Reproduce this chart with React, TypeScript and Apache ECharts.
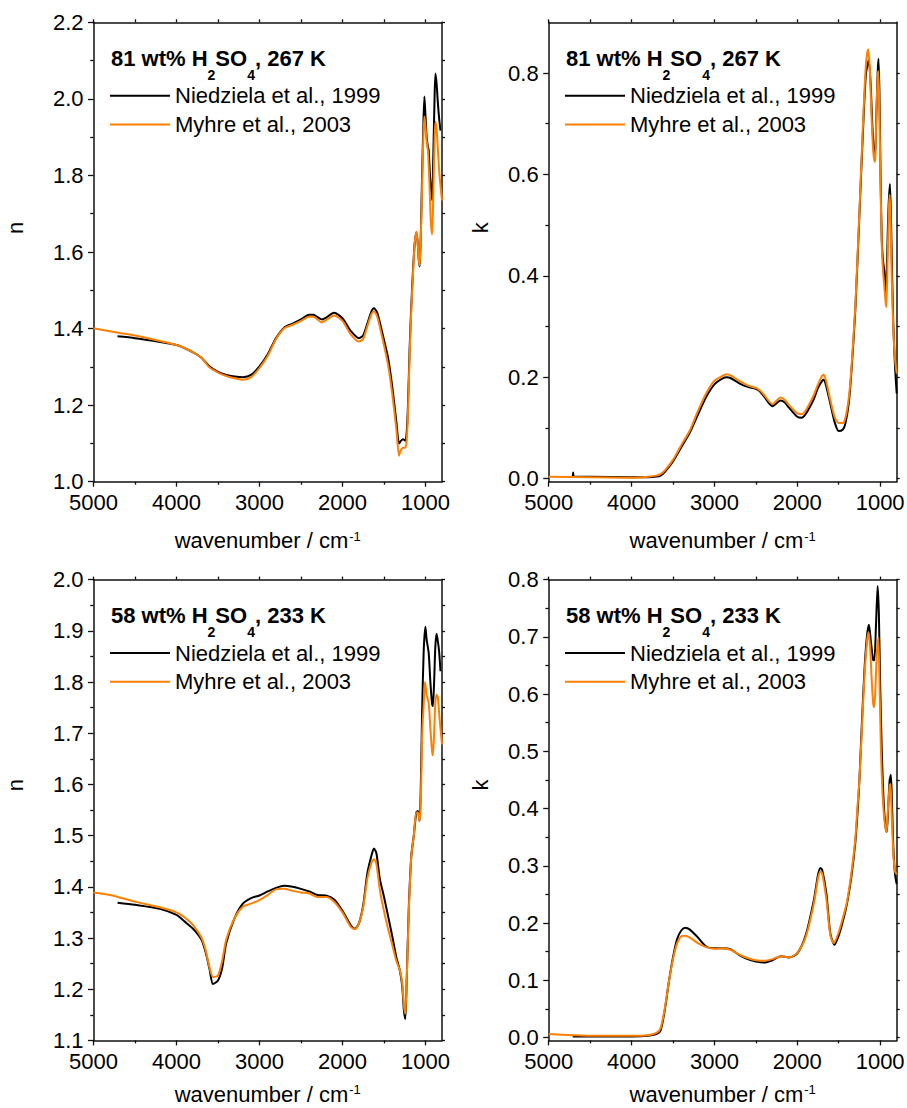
import React, { useEffect, useRef } from "react";
import * as echarts from "echarts";

const FONT = '"Liberation Sans", Arial, Helvetica, sans-serif';
const BLACK = "#000000";
const ORANGE_LINE = "#FF8000";

const SERIES_NAMES = ["Niedziela et al., 1999", "Myhre et al., 2003"];

const X_MIN = 800;
const X_MAX = 5000;
const X_MAJOR = [5000, 4000, 3000, 2000, 1000];
const X_MINOR = [4500, 3500, 2500, 1500];

const N81_MAJOR = [1.0, 1.2, 1.4, 1.6, 1.8, 2.0, 2.2];
const N81_MINOR = [1.1, 1.3, 1.5, 1.7, 1.9, 2.1];
const K81_MAJOR = [0, 0.2, 0.4, 0.6, 0.8];
const K81_MINOR = [0.1, 0.3, 0.5, 0.7];
const N58_MAJOR = [1.1, 1.2, 1.3, 1.4, 1.5, 1.6, 1.7, 1.8, 1.9, 2.0];
const N58_MINOR = [1.15, 1.25, 1.35, 1.45, 1.55, 1.65, 1.75, 1.85, 1.95];
const K58_MAJOR = [0, 0.1, 0.2, 0.3, 0.4, 0.5, 0.6, 0.7, 0.8];
const K58_MINOR = [0.05, 0.15, 0.25, 0.35, 0.45, 0.55, 0.65, 0.75];

// 81 wt% H2SO4, 267 K — refractive index n
const N81_NIEDZIELA: [number, number][] = [
  [4710, 1.38], [4500, 1.375], [4000, 1.357], [3800, 1.338], [3700, 1.324], [3600, 1.301], [3500, 1.287],
  [3400, 1.279], [3300, 1.275], [3200, 1.273], [3100, 1.279], [3000, 1.301], [2900, 1.333], [2800, 1.375],
  [2700, 1.403], [2600, 1.413], [2500, 1.424], [2400, 1.436], [2350, 1.436], [2250, 1.424], [2200, 1.428],
  [2100, 1.441], [2000, 1.427], [1900, 1.394], [1800, 1.375], [1750, 1.382], [1700, 1.413], [1650, 1.445],
  [1620, 1.453], [1580, 1.441], [1500, 1.371], [1450, 1.324], [1400, 1.249], [1350, 1.156], [1318, 1.1],
  [1300, 1.105], [1270, 1.111], [1242, 1.107], [1225, 1.13], [1210, 1.2], [1190, 1.35], [1170, 1.46],
  [1150, 1.55], [1130, 1.62], [1109, 1.651], [1095, 1.63], [1080, 1.58], [1069, 1.562], [1055, 1.65],
  [1040, 1.8], [1025, 1.93], [1012, 2.006], [1000, 1.96], [985, 1.9], [970, 1.875], [960, 1.866],
  [945, 1.8], [930, 1.76], [919, 1.735], [905, 1.85], [890, 2.0], [879, 2.066], [865, 2.04], [850, 1.99],
  [835, 1.95], [818, 1.917],
];
const N81_MYHRE: [number, number][] = [
  [5000, 1.401], [4700, 1.389], [4500, 1.382], [4000, 1.357], [3800, 1.338], [3700, 1.324], [3600, 1.298],
  [3500, 1.285], [3400, 1.276], [3300, 1.27], [3200, 1.266], [3100, 1.273], [3000, 1.297], [2900, 1.329],
  [2800, 1.373], [2700, 1.401], [2600, 1.41], [2500, 1.42], [2400, 1.431], [2350, 1.431], [2250, 1.416],
  [2200, 1.422], [2100, 1.434], [2000, 1.42], [1900, 1.385], [1800, 1.366], [1750, 1.373], [1700, 1.406],
  [1650, 1.438], [1620, 1.445], [1580, 1.431], [1500, 1.357], [1450, 1.305], [1400, 1.23], [1350, 1.137],
  [1318, 1.068], [1300, 1.081], [1270, 1.089], [1242, 1.089], [1225, 1.11], [1210, 1.18], [1190, 1.33],
  [1170, 1.45], [1150, 1.54], [1130, 1.62], [1109, 1.653], [1095, 1.63], [1080, 1.58], [1069, 1.565],
  [1055, 1.64], [1040, 1.77], [1025, 1.9], [1012, 1.954], [1000, 1.93], [985, 1.89], [968, 1.86],
  [950, 1.77], [935, 1.68], [919, 1.646], [905, 1.75], [890, 1.89], [879, 1.94], [865, 1.92], [850, 1.87],
  [830, 1.8], [800, 1.735],
];

// 81 wt% H2SO4, 267 K — absorption index k
const K81_NIEDZIELA: [number, number][] = [
  [4710, 0.004], [4705, 0.012], [4695, 0.004], [4500, 0.004], [4000, 0.003], [3800, 0.003], [3700, 0.004],
  [3650, 0.006], [3600, 0.013], [3500, 0.034], [3400, 0.062], [3300, 0.09], [3200, 0.126], [3100, 0.161],
  [3000, 0.186], [2900, 0.198], [2850, 0.2], [2800, 0.198], [2700, 0.188], [2600, 0.181], [2500, 0.177],
  [2450, 0.172], [2400, 0.162], [2300, 0.143], [2200, 0.154], [2150, 0.15], [2100, 0.14], [2000, 0.122],
  [1950, 0.12], [1900, 0.127], [1800, 0.157], [1750, 0.179], [1700, 0.193], [1680, 0.195], [1650, 0.182],
  [1600, 0.147], [1550, 0.112], [1500, 0.094], [1450, 0.097], [1420, 0.108], [1380, 0.147], [1350, 0.203],
  [1300, 0.331], [1250, 0.521], [1200, 0.712], [1170, 0.8], [1138, 0.825], [1115, 0.78], [1095, 0.7],
  [1075, 0.645], [1061, 0.635], [1045, 0.72], [1030, 0.8], [1020, 0.828], [1008, 0.76], [995, 0.6],
  [980, 0.47], [965, 0.43], [950, 0.41], [940, 0.38], [931, 0.36], [915, 0.44], [900, 0.53], [882, 0.581],
  [870, 0.52], [855, 0.4], [840, 0.3], [820, 0.22], [800, 0.168],
];
const K81_MYHRE: [number, number][] = [
  [5000, 0.004], [4500, 0.003], [4000, 0.002], [3800, 0.004], [3700, 0.006], [3650, 0.009], [3600, 0.016],
  [3500, 0.037], [3400, 0.066], [3300, 0.094], [3200, 0.133], [3100, 0.168], [3000, 0.193], [2900, 0.203],
  [2850, 0.206], [2800, 0.203], [2700, 0.193], [2600, 0.184], [2500, 0.179], [2450, 0.174], [2400, 0.165],
  [2300, 0.147], [2200, 0.16], [2150, 0.155], [2100, 0.145], [2000, 0.129], [1950, 0.127], [1900, 0.134],
  [1800, 0.165], [1750, 0.186], [1700, 0.203], [1680, 0.205], [1650, 0.191], [1600, 0.154], [1550, 0.122],
  [1500, 0.11], [1450, 0.11], [1420, 0.119], [1380, 0.157], [1350, 0.21], [1300, 0.338], [1250, 0.528],
  [1200, 0.726], [1170, 0.82], [1145, 0.847], [1125, 0.81], [1105, 0.72], [1085, 0.65], [1068, 0.625],
  [1058, 0.63], [1045, 0.72], [1030, 0.79], [1022, 0.804], [1010, 0.74], [995, 0.58], [980, 0.46],
  [965, 0.41], [950, 0.38], [935, 0.35], [925, 0.338], [910, 0.43], [895, 0.53], [884, 0.56], [872, 0.5],
  [860, 0.4], [840, 0.29], [820, 0.235], [800, 0.207],
];

// 58 wt% H2SO4, 233 K — refractive index n
const N58_NIEDZIELA: [number, number][] = [
  [4710, 1.369], [4500, 1.365], [4200, 1.357], [4000, 1.345], [3900, 1.332], [3800, 1.318], [3700, 1.297],
  [3650, 1.273], [3600, 1.238], [3560, 1.21], [3500, 1.217], [3450, 1.241], [3400, 1.29], [3300, 1.339],
  [3200, 1.367], [3100, 1.378], [3000, 1.383], [2900, 1.391], [2800, 1.398], [2700, 1.402], [2600, 1.4],
  [2500, 1.396], [2400, 1.391], [2300, 1.384], [2200, 1.383], [2100, 1.375], [2000, 1.353], [1900, 1.325],
  [1850, 1.318], [1800, 1.329], [1750, 1.364], [1700, 1.426], [1650, 1.461], [1620, 1.475], [1590, 1.465],
  [1550, 1.416], [1500, 1.381], [1450, 1.343], [1400, 1.304], [1350, 1.262], [1310, 1.238], [1280, 1.207],
  [1260, 1.16], [1242, 1.142], [1225, 1.22], [1200, 1.36], [1170, 1.46], [1140, 1.5], [1110, 1.545],
  [1090, 1.548], [1070, 1.528], [1055, 1.6], [1040, 1.74], [1020, 1.863], [1000, 1.908], [985, 1.883],
  [960, 1.856], [940, 1.8], [920, 1.758], [910, 1.753], [895, 1.8], [880, 1.87], [865, 1.894], [850, 1.88],
  [835, 1.86], [818, 1.821],
];
const N58_MYHRE: [number, number][] = [
  [5000, 1.389], [4800, 1.384], [4500, 1.371], [4200, 1.36], [4000, 1.35], [3900, 1.34], [3800, 1.325],
  [3700, 1.301], [3650, 1.277], [3600, 1.241], [3560, 1.224], [3500, 1.227], [3450, 1.255], [3400, 1.297],
  [3300, 1.339], [3200, 1.361], [3100, 1.367], [3000, 1.374], [2900, 1.384], [2800, 1.395], [2700, 1.396],
  [2600, 1.392], [2500, 1.389], [2400, 1.387], [2300, 1.38], [2200, 1.38], [2100, 1.371], [2000, 1.35],
  [1900, 1.322], [1850, 1.317], [1800, 1.329], [1750, 1.36], [1700, 1.416], [1650, 1.447], [1620, 1.454],
  [1590, 1.444], [1550, 1.395], [1500, 1.353], [1450, 1.318], [1400, 1.287], [1350, 1.255], [1310, 1.238],
  [1280, 1.213], [1260, 1.17], [1242, 1.152], [1225, 1.22], [1200, 1.353], [1170, 1.46], [1140, 1.5],
  [1110, 1.545], [1090, 1.545], [1070, 1.528], [1055, 1.57], [1040, 1.695], [1020, 1.758], [1005, 1.8],
  [985, 1.775], [960, 1.758], [940, 1.709], [920, 1.665], [910, 1.657], [895, 1.7], [880, 1.76], [865, 1.775],
  [850, 1.77], [830, 1.73], [800, 1.678],
];

// 58 wt% H2SO4, 233 K — absorption index k
const K58_NIEDZIELA: [number, number][] = [
  [4710, 0.002], [4500, 0.002], [4000, 0.002], [3800, 0.003], [3700, 0.006], [3650, 0.012], [3600, 0.047],
  [3550, 0.097], [3500, 0.14], [3450, 0.172], [3400, 0.187], [3350, 0.192], [3300, 0.189], [3200, 0.175],
  [3100, 0.159], [3000, 0.156], [2900, 0.156], [2800, 0.154], [2700, 0.144], [2600, 0.137], [2500, 0.133],
  [2400, 0.131], [2300, 0.135], [2200, 0.142], [2100, 0.14], [2000, 0.147], [1900, 0.178], [1800, 0.24],
  [1750, 0.284], [1720, 0.296], [1700, 0.293], [1650, 0.253], [1600, 0.181], [1550, 0.162], [1500, 0.178],
  [1450, 0.203], [1400, 0.234], [1350, 0.278], [1300, 0.34], [1270, 0.4], [1250, 0.45], [1220, 0.55],
  [1190, 0.64], [1160, 0.7], [1135, 0.721], [1110, 0.69], [1085, 0.66], [1070, 0.659], [1050, 0.72],
  [1030, 0.789], [1015, 0.74], [1000, 0.62], [980, 0.5], [960, 0.42], [940, 0.375], [920, 0.359],
  [900, 0.41], [885, 0.45], [870, 0.459], [855, 0.4], [840, 0.33], [820, 0.285], [800, 0.268],
];
const K58_MYHRE: [number, number][] = [
  [5000, 0.006], [4700, 0.004], [4500, 0.003], [4000, 0.003], [3800, 0.004], [3700, 0.008], [3650, 0.016],
  [3600, 0.05], [3550, 0.097], [3500, 0.137], [3450, 0.165], [3400, 0.177], [3350, 0.178], [3300, 0.175],
  [3200, 0.165], [3100, 0.158], [3000, 0.155], [2900, 0.156], [2800, 0.153], [2700, 0.145], [2600, 0.139],
  [2500, 0.135], [2400, 0.134], [2300, 0.137], [2200, 0.142], [2100, 0.14], [2000, 0.148], [1900, 0.175],
  [1800, 0.234], [1750, 0.278], [1720, 0.29], [1700, 0.287], [1650, 0.243], [1600, 0.178], [1560, 0.165],
  [1500, 0.184], [1450, 0.209], [1400, 0.237], [1350, 0.284], [1300, 0.346], [1270, 0.41], [1250, 0.45],
  [1220, 0.54], [1190, 0.63], [1160, 0.69], [1140, 0.708], [1120, 0.68], [1100, 0.62], [1085, 0.585],
  [1073, 0.577], [1060, 0.6], [1040, 0.67], [1022, 0.698], [1005, 0.6], [990, 0.5], [975, 0.44], [960, 0.4],
  [940, 0.37], [923, 0.359], [905, 0.4], [885, 0.44], [875, 0.443], [860, 0.39], [840, 0.32], [820, 0.29],
  [800, 0.285],
];

const PANELS = [
  {
    box: [93.5, 22.3, 348.5, 459.4], yMin: 1.0, yMax: 2.2, major: N81_MAJOR, minor: N81_MINOR,
    yName: "n", conc: "81", temp: "267", data: [N81_NIEDZIELA, N81_MYHRE], titleGap: 48,
  },
  {
    box: [548.7, 22.3, 348, 459.4], yMin: -0.006, yMax: 0.9, major: K81_MAJOR, minor: K81_MINOR,
    yName: "k", conc: "81", temp: "267", data: [K81_NIEDZIELA, K81_MYHRE], titleGap: 48,
  },
  {
    box: [93.5, 579.6, 348.5, 460.8], yMin: 1.1, yMax: 2.0, major: N58_MAJOR, minor: N58_MINOR,
    yName: "n", conc: "58", temp: "233", data: [N58_NIEDZIELA, N58_MYHRE], titleGap: 43,
  },
  {
    box: [548.7, 579.6, 348, 460.8], yMin: -0.005, yMax: 0.8, major: K58_MAJOR, minor: K58_MINOR,
    yName: "k", conc: "58", temp: "233", data: [K58_NIEDZIELA, K58_MYHRE], titleGap: 43,
  },
];

function buildOption() {
  const grid: any[] = [];
  const xAxis: any[] = [];
  const yAxis: any[] = [];
  const series: any[] = [];
  const legend: any[] = [];
  const graphic: any[] = [];
  const axLine = { color: "#111", width: 1.5 };
  const tickStyle = { color: "#111", width: 1.3 };

  PANELS.forEach((p, g) => {
    const [left, top, width, height] = p.box;
    grid.push({ left, top, width, height, containLabel: false, outerBoundsMode: "none" });

    const xBase = {
      type: "value", gridIndex: g, min: X_MIN, max: X_MAX, inverse: true,
      splitLine: { show: false }, minorTick: { show: false },
    };
    xAxis.push({
      ...xBase, position: "bottom",
      axisLine: { show: true, onZero: false, lineStyle: axLine },
      axisTick: { show: true, inside: false, length: 5, customValues: X_MAJOR, lineStyle: tickStyle },
      axisLabel: {
        show: true, customValues: X_MAJOR, margin: 12, fontSize: 22, lineHeight: 18, fontFamily: FONT, color: "#000",
        formatter: (v: number) => String(v),
      },
    });
    xAxis.push({
      ...xBase, position: "bottom",
      axisLine: { show: false, onZero: false },
      axisTick: { show: true, inside: false, length: 3, customValues: X_MINOR, lineStyle: tickStyle },
      axisLabel: { show: false },
    });
    xAxis.push({
      ...xBase, position: "top",
      axisLine: { show: true, onZero: false, lineStyle: axLine },
      axisTick: { show: true, inside: false, length: 3, customValues: [...X_MAJOR, ...X_MINOR], lineStyle: tickStyle },
      axisLabel: { show: false },
    });

    const yBase = {
      type: "value", gridIndex: g, min: p.yMin, max: p.yMax,
      splitLine: { show: false }, minorTick: { show: false },
    };
    yAxis.push({
      ...yBase, position: "left",
      axisLine: { show: true, onZero: false, lineStyle: axLine },
      axisTick: { show: true, inside: false, length: 5.5, customValues: p.major, lineStyle: tickStyle },
      axisLabel: {
        show: true, customValues: p.major, margin: 10, fontSize: 22, lineHeight: 18, fontFamily: FONT, color: "#000",
        formatter: (v: number) => v.toFixed(1),
      },
    });
    yAxis.push({
      ...yBase, position: "left",
      axisLine: { show: false, onZero: false },
      axisTick: { show: true, inside: false, length: 3.3, customValues: p.minor, lineStyle: tickStyle },
      axisLabel: { show: false },
    });
    yAxis.push({
      ...yBase, position: "right",
      axisLine: { show: true, onZero: false, lineStyle: axLine },
      axisTick: { show: true, inside: false, length: 3, customValues: [...p.major, ...p.minor], lineStyle: tickStyle },
      axisLabel: { show: false },
    });

    p.data.forEach((d, s) => {
      const color = s === 0 ? BLACK : ORANGE_LINE;
      series.push({
        type: "line", name: SERIES_NAMES[s], xAxisIndex: 3 * g, yAxisIndex: 3 * g,
        data: d, showSymbol: false, symbol: "none", smooth: 0.25,
        lineStyle: { color, width: 2 }, itemStyle: { color }, z: 2 + s,
      });
    });

    const lx = g % 2 === 0 ? 110 : 565;
    legend.push({
      left: lx, top: top + 62.5, orient: "vertical", padding: 0, itemGap: 6.6,
      itemWidth: 60, itemHeight: 2, icon: "rect", selectedMode: false,
      textStyle: { fontSize: 22, fontFamily: FONT, color: "#000", lineHeight: 22 },
      data: SERIES_NAMES,
    });

    const bold = { fontSize: 22, fontWeight: "bold", fontFamily: FONT, fill: "#000", lineHeight: 24, verticalAlign: "top" };
    const sub = { fontSize: 14, fontWeight: "bold", fontFamily: FONT, fill: "#000", lineHeight: 14, verticalAlign: "top", padding: [20.5, 0, 0, 0] };
    graphic.push({
      type: "text", x: lx + 1, y: top + 24.8, z: 10,
      style: {
        text: `{b|${p.conc} wt% H}{s|2}{b|SO}{s|4}{b|, ${p.temp} K}`,
        rich: { b: bold, s: sub }, align: "left", verticalAlign: "top", fill: "#000",
      },
    });

    const cx = left + width / 2;
    graphic.push({
      type: "text", x: cx, y: top + height + p.titleGap, z: 10,
      style: {
        text: "{a|wavenumber / cm}{s|-1}",
        rich: {
          a: { fontSize: 22, fontFamily: FONT, fill: "#000", lineHeight: 26, verticalAlign: "top" },
          s: { fontSize: 13, fontFamily: FONT, fill: "#000", lineHeight: 13, verticalAlign: "top", padding: [0, 0, 0, 1] },
        },
        align: "center", verticalAlign: "top", fill: "#000",
      },
    });

    graphic.push({
      type: "text", x: g % 2 === 0 ? 15 : 480, y: top + 205.5, rotation: Math.PI / 2, z: 10,
      style: { text: p.yName, fontSize: 22, fontFamily: FONT, fill: "#000", align: "center", verticalAlign: "middle" },
    });
  });

  return { animation: false, backgroundColor: "#ffffff", grid, xAxis, yAxis, series, legend, graphic };
}

export default function App() {
  const ref = useRef<HTMLDivElement>(null);
  useEffect(() => {
    document.body.style.margin = "0";
    if (!ref.current) return;
    const chart = echarts.init(ref.current, null, { renderer: "svg" });
    chart.setOption(buildOption() as any);
    return () => chart.dispose();
  }, []);
  return <div ref={ref} style={{ width: 907, height: 1108 }} />;
}
